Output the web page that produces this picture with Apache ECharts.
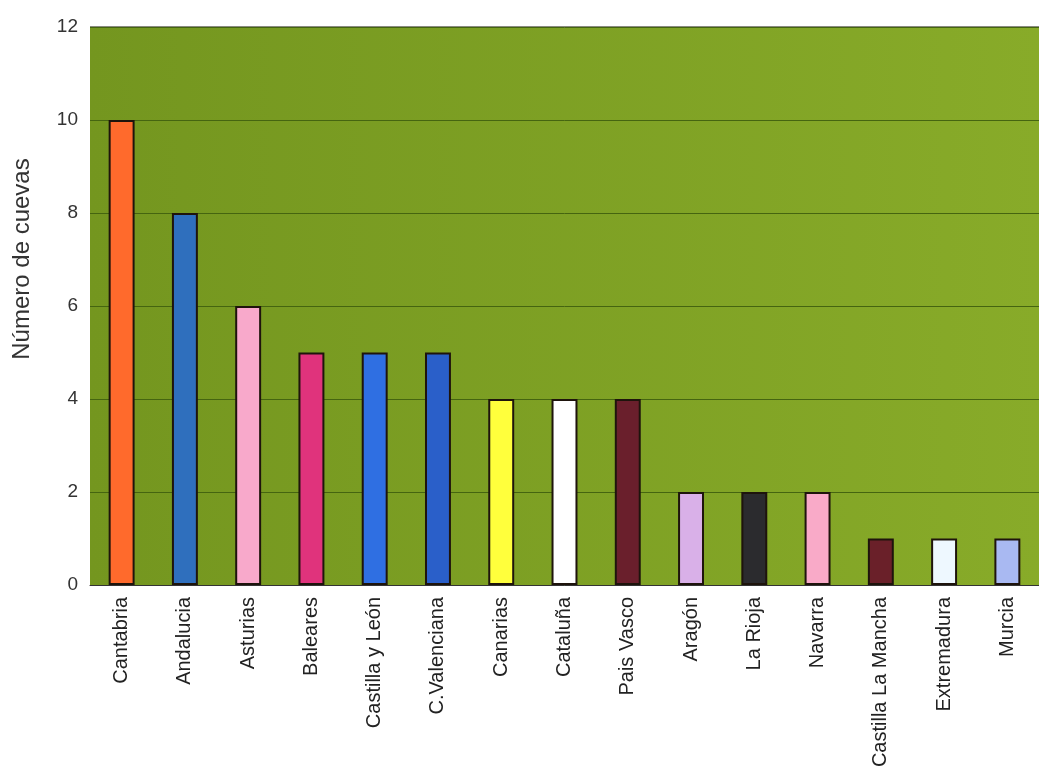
<!DOCTYPE html>
<html>
<head>
<meta charset="utf-8">
<script src="https://cdn.jsdelivr.net/npm/echarts@6/dist/echarts.min.js"></script>
<style>html,body{margin:0;padding:0;background:#fff}#c{width:1039px;height:779px}</style>
</head>
<body>
<div id="c"></div>
<script>
const categories = ["Cantabria","Andalucia","Asturias","Baleares","Castilla y León","C.Valenciana","Canarias","Cataluña","Pais Vasco","Aragón","La Rioja","Navarra","Castilla La Mancha","Extremadura","Murcia"];
const values = [10,8,6,5,5,5,4,4,4,2,2,2,1,1,1];
const barColors = ["#ff6a2c","#2f6fbd","#f8a9cb","#e0337c","#2f6fe2","#2a5fc9","#ffff3c","#ffffff","#6a1f2c","#d9b0e8","#2b2b2e","#f9aac8","#6a2029","#eef8ff","#a9b9f2"];
const yTicks = [0,2,4,6,8,10,12];

const chart = echarts.init(document.getElementById('c'));
chart.setOption({
  animation: false,
  grid: {left: 90, top: 27, right: 0, bottom: 194, show: true,
    backgroundColor: new echarts.graphic.LinearGradient(0,0,1,0,[{offset:0,color:'#74961f'},{offset:1,color:'#88ab29'}]),
    borderWidth: 0},
  xAxis: {
    type: 'category', data: categories,
    axisLine: {show: true, lineStyle: {color: '#333', width: 1}},
    axisTick: {show: false},
    axisLabel: {rotate: 90, interval: 0, margin: 12, color: '#222', fontSize: 20, fontFamily: 'Liberation Sans, Arial, sans-serif'}
  },
  yAxis: {
    type: 'value', min: 0, max: 12, interval: 2,
    name: 'Número de cuevas', nameLocation: 'middle', nameGap: 56,
    nameTextStyle: {fontSize: 24, color: '#333', fontFamily: 'Liberation Sans, Arial, sans-serif', padding: [0, 0, 0, 94]},
    axisLine: {show: false}, axisTick: {show: false},
    axisLabel: {margin: 12, color: '#333', fontSize: 19, fontFamily: 'Liberation Sans, Arial, sans-serif',
      formatter: v => yTicks.includes(v) ? String(v) : ''},
    splitLine: {show: true, lineStyle: {color: '#456510', width: 1}}
  },
  series: [{
    type: 'bar', barWidth: '41%',
    data: values.map((v,i) => ({value: v, itemStyle: {color: barColors[i]}})),
    itemStyle: {borderColor: '#1e140c', borderWidth: 2}
  }],
  graphic: [{type:'line', shape:{x1:90,y1:27,x2:1039,y2:27}, style:{stroke:'#8a8a80', lineWidth:2}}]
});
</script>
</body>
</html>
